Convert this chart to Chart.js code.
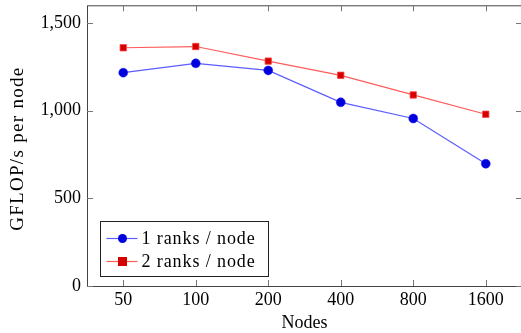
<!DOCTYPE html>
<html>
<head>
<meta charset="utf-8">
<script src="https://cdn.jsdelivr.net/npm/chart.js@4"></script>
<style>
  html, body { margin: 0; padding: 0; background: #fff; overflow: hidden; }
  #wrap { width: 530px; height: 333px; }
</style>
</head>
<body>
<div id="wrap"><canvas id="myChart"></canvas></div>
<script>
// Data
var nodes = ["50", "100", "200", "400", "800", "1600"];
var oneRank = [1216, 1269, 1229, 1047, 955, 697];
var twoRanks = [1358, 1365, 1282, 1201, 1089, 979];
var yTicks = [0, 500, 1000, 1500];
var xTitle = "Nodes";
var yTitle = "GFLOP/s per node";

var FONT = "'Liberation Serif', 'DejaVu Serif', serif";

// inward ticks, frame, legend and axis titles, pgfplots style
var frameTicks = {
  id: "frameTicks",
  afterDraw: function(chart) {
    var ctx = chart.ctx;
    var a = chart.chartArea;
    var x = chart.scales.x, y = chart.scales.y;
    ctx.save();
    ctx.strokeStyle = "#444";
    ctx.lineWidth = 1;
    ctx.strokeRect(a.left + 0.5, a.top + 0.5, a.right - a.left, a.bottom - a.top);
    ctx.strokeStyle = "#777";
    ctx.beginPath();
    for (var i = 0; i < nodes.length; i++) {
      var px = Math.round(x.getPixelForValue(i)) + 0.5;
      ctx.moveTo(px, a.bottom); ctx.lineTo(px, a.bottom - 6);
      ctx.moveTo(px, a.top); ctx.lineTo(px, a.top + 6);
    }
    for (var j = 0; j < yTicks.length; j++) {
      var py = Math.round(y.getPixelForValue(yTicks[j])) + 0.5;
      ctx.moveTo(a.left, py); ctx.lineTo(a.left + 6, py);
      ctx.moveTo(a.right, py); ctx.lineTo(a.right - 6, py);
    }
    ctx.stroke();

    // axis titles
    ctx.fillStyle = "#000";
    ctx.textAlign = "center";
    ctx.textBaseline = "middle";
    ctx.font = "18px " + FONT;
    ctx.fillText(xTitle, (a.left + 522) / 2, 323);
    ctx.save();
    ctx.translate(18, (a.top + a.bottom) / 2 + 3);
    ctx.rotate(-Math.PI / 2);
    ctx.font = "19px " + FONT;
    ctx.letterSpacing = "1.3px";
    ctx.fillText(yTitle, 0, 0);
    ctx.restore();

    // legend box inside plot, bottom left
    var bx = a.left + 13.5, by = a.bottom - 64.5, bw = 168, bh = 55;
    ctx.fillStyle = "#fff";
    ctx.fillRect(bx, by, bw, bh);
    ctx.strokeStyle = "#222";
    ctx.strokeRect(bx, by, bw, bh);
    ctx.font = "18px " + FONT;
    ctx.letterSpacing = "0.9px";
    ctx.textAlign = "left";
    ctx.textBaseline = "middle";
    chart.data.datasets.forEach(function(ds, k) {
      var ly = by + 17 + k * 23;
      ctx.strokeStyle = ds.borderColor;
      ctx.lineWidth = 1.2;
      ctx.beginPath();
      ctx.moveTo(bx + 6, ly); ctx.lineTo(bx + 37, ly);
      ctx.stroke();
      ctx.fillStyle = ds.pointBackgroundColor;
      ctx.beginPath();
      if (ds.pointStyle === "rect") {
        ctx.rect(bx + 17.5, ly - 4.5, 9, 9);
      } else {
        ctx.arc(bx + 22, ly, 4.5, 0, Math.PI * 2);
      }
      ctx.fill();
      ctx.fillStyle = "#000";
      ctx.fillText(ds.label, bx + 41, ly + 1);
    });
    ctx.restore();
  }
};

var ctx = document.getElementById("myChart").getContext("2d");
var myChart = new Chart(ctx, {
  type: "line",
  data: {
    labels: nodes,
    datasets: [
      {
        label: "1 ranks / node",
        data: oneRank,
        borderColor: "#5c5cff",
        borderWidth: 1.2,
        pointStyle: "circle",
        pointRadius: 4.5,
        pointBackgroundColor: "#0000dd",
        pointBorderColor: "#2222ee",
        pointBorderWidth: 0.5,
        tension: 0
      },
      {
        label: "2 ranks / node",
        data: twoRanks,
        borderColor: "#ff5c5c",
        borderWidth: 1.2,
        pointStyle: "rect",
        pointRadius: 4.5,
        pointBackgroundColor: "#d40000",
        pointBorderColor: "#ff4444",
        pointBorderWidth: 0.8,
        tension: 0
      }
    ]
  },
  options: {
    responsive: true,
    maintainAspectRatio: false,
    animation: false,
    layout: { padding: { top: 5, right: 8, left: 0, bottom: 0 } },
    plugins: {
      legend: { display: false },
      tooltip: { enabled: false }
    },
    scales: {
      x: {
        offset: true,
        grid: { display: false, drawTicks: false },
        border: { display: false },
        ticks: { color: "#000", padding: 3, font: { family: FONT, size: 18 } },
        afterFit: function(s) { s.height = 47; }
      },
      y: {
        min: 0,
        max: 1600,
        grid: { display: false, drawTicks: false },
        border: { display: false },
        afterBuildTicks: function(s) {
          s.ticks = yTicks.map(function(v) { return { value: v }; });
        },
        ticks: {
          color: "#000",
          padding: 6,
          font: { family: FONT, size: 18 },
          callback: function(v) { return v.toLocaleString("en-US"); }
        },
        afterFit: function(s) { s.width = 87; s.paddingTop = 0; s.paddingBottom = 0; }
      }
    }
  },
  plugins: [frameTicks]
});
</script>
</body>
</html>
